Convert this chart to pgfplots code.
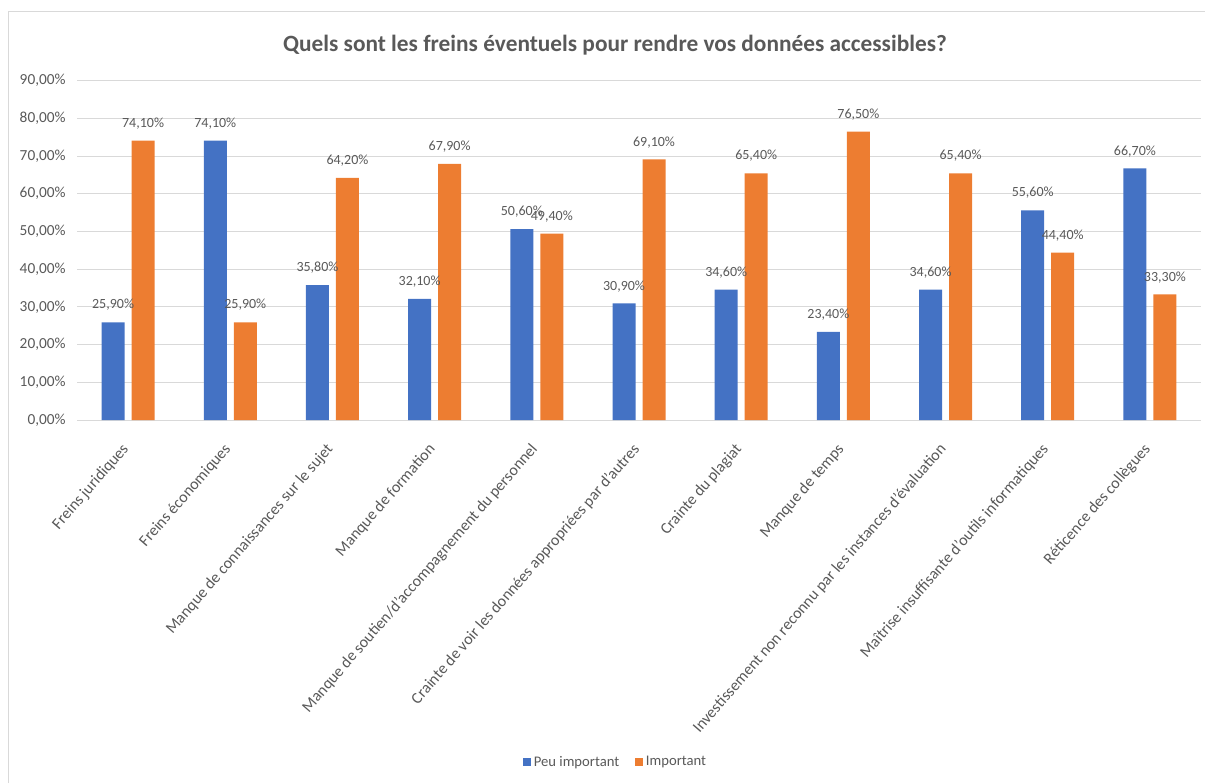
\documentclass[border=0pt]{standalone}
\usepackage{pgfplots}
\pgfplotsset{compat=1.18}
\usepackage{fontspec}
\setmainfont{Carlito}
\definecolor{cblue}{HTML}{4472C4}
\definecolor{corange}{HTML}{ED7D31}
\definecolor{ctext}{HTML}{595959}
\definecolor{cgrid}{HTML}{D9D9D9}
\begin{document}
\begin{tikzpicture}[x=0.75pt,y=0.75pt]
\path[use as bounding box] (0,0) rectangle (1205,783);
\draw[cgrid, line width=0.75pt] (8,0) -- (8,771) -- (1205,771);
\node[font=\fontsize{17.5}{20}\selectfont\bfseries, text=ctext] at (615,738) {Quels sont les freins éventuels pour rendre vos données accessibles?};
\begin{axis}[
  at={(57.75pt,272.25pt)}, anchor=south west,
  scale only axis, width=843pt, height=254.55pt,
  ymin=0, ymax=90, xmin=-0.5, xmax=10.5,
  ybar=5.25pt, bar width=17.25pt,
  axis line style={draw=none},
  ymajorgrids, grid style={cgrid, line width=0.75pt},
  major tick length=0pt,
  ytick={0,10,...,90},
  yticklabels={{0,00\%},{10,00\%},{20,00\%},{30,00\%},{40,00\%},{50,00\%},{60,00\%},{70,00\%},{80,00\%},{90,00\%}},
  yticklabel style={font=\fontsize{11.5}{13}\selectfont, text=ctext, xshift=-5pt},
  xtick={0,...,10},
  xticklabels={Freins juridiques, Freins économiques, Manque de connaissances sur le sujet, Manque de formation, Manque de soutien/d’accompagnement du personnel, Crainte de voir les données appropriées par d’autres, Crainte du plagiat, Manque de temps, Investissement non reconnu par les instances d’évaluation, Maîtrise insuffisante d’outils informatiques, Réticence des collègues},
  xticklabel style={font=\fontsize{12}{14}\selectfont, text=ctext, rotate=49, anchor=north east, inner sep=0pt, xshift=-15.9pt, yshift=-6.5pt},
  nodes near coords={\pgfmathprintnumber[fixed,fixed zerofill,precision=2,use comma,assume math mode=true]{\pgfplotspointmeta}\%},
  every node near coord/.append style={font=\fontsize{10.5}{12}\selectfont, text=ctext, anchor=south, inner sep=0pt, yshift=8.5pt},
  legend columns=2,
  legend style={at={(0.4795,-1.0077)}, anchor=center, draw=none, fill=none, font=\fontsize{11}{13}\selectfont, text=ctext, /tikz/every even column/.append style={column sep=10pt}},
  legend image code/.code={\fill[#1] (0pt,-3pt) rectangle (6pt,3pt);},
]
\addplot[fill=cblue, draw=none] coordinates {(0,25.9) (1,74.1) (2,35.8) (3,32.1) (4,50.6) (5,30.9) (6,34.6) (7,23.4) (8,34.6) (9,55.6) (10,66.7)};
\addplot[fill=corange, draw=none] coordinates {(0,74.1) (1,25.9) (2,64.2) (3,67.9) (4,49.4) (5,69.1) (6,65.4) (7,76.5) (8,65.4) (9,44.4) (10,33.3)};
\legend{Peu important, Important}
\end{axis}
\end{tikzpicture}
\end{document}
